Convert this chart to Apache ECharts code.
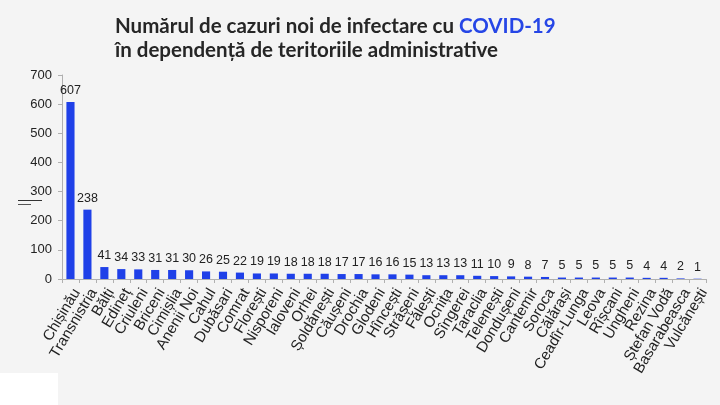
<!DOCTYPE html>
<html>
<head>
<meta charset="utf-8">
<script src="https://cdn.jsdelivr.net/npm/echarts@6/dist/echarts.min.js"></script>
<style>
html,body{margin:0;padding:0;background:#f4f4f4;}
#c{width:720px;height:405px;}
</style>
</head>
<body>
<div id="c"></div>
<script>
const categories = ["Chișinău","Transnistria","Bălți","Edineț","Criuleni","Briceni","Cimișlia","Anenii Noi","Cahul","Dubăsari","Comrat","Florești","Nisporeni","Ialoveni","Orhei","Șoldănești","Căușeni","Drochia","Glodeni","Hîncești","Strășeni","Fălești","Ocnița","Sîngerei","Taraclia","Telenești","Dondușeni","Cantemir","Soroca","Călărași","Ceadîr-Lunga","Leova","Rîșcani","Ungheni","Rezina","Ștefan Vodă","Basarabeasca","Vulcănești"];
const values = [607,238,41,34,33,31,31,30,26,25,22,19,19,18,18,18,17,17,16,16,15,13,13,13,11,10,9,8,7,5,5,5,5,5,4,4,2,1];
const yTicks = [0,100,200,300,400,500,600,700];
const titleLine1 = "Numărul de cazuri noi de infectare cu ";
const titleBlue = "COVID-19";
const titleLine2 = "în dependență de teritoriile administrative";

const chart = echarts.init(document.getElementById('c'));
chart.setOption({
  backgroundColor: '#f4f4f4',
  animation: false,
  title: {
    left: 110, top: 9,
    text: '{a|' + titleLine1 + '}{b|' + titleBlue + '}\n{a|' + titleLine2 + '}',
    textStyle: {
      rich: {
        a: {fontFamily: 'Lato', fontWeight: 'bold', fontSize: 20.5, color: '#262626', lineHeight: 24},
        b: {fontFamily: 'Lato', fontWeight: 'bold', fontSize: 20.5, color: '#2646e6', lineHeight: 24}
      }
    }
  },
  grid: {left: 62, right: 14, top: 75, bottom: 126},
  xAxis: {
    type: 'category',
    data: categories,
    axisLine: {lineStyle: {color: '#b0b0b0'}},
    axisTick: {show: true, alignWithLabel: false, length: 4, lineStyle: {color: '#b0b0b0'}},
    axisLabel: {interval: 0, rotate: 59, verticalAlign: 'top', color: '#222', fontFamily: 'Liberation Sans', fontSize: 15, margin: 7}
  },
  yAxis: {
    type: 'value',
    min: yTicks[0], max: yTicks[yTicks.length-1], interval: 100,
    splitLine: {show: false},
    axisLine: {show: true, lineStyle: {color: '#b0b0b0'}},
    axisTick: {show: true, length: 4, lineStyle: {color: '#b0b0b0'}},
    axisLabel: {color: '#222', fontFamily: 'Liberation Sans', fontSize: 13, margin: 10}
  },
  graphic: [
    {type: 'rect', left: 0, bottom: 0, shape: {width: 58, height: 32}, style: {fill: '#ffffff'}},
    {type: 'line', shape: {x1: 18, y1: 200.5, x2: 42, y2: 200.5}, style: {stroke: '#333', lineWidth: 1}},
    {type: 'line', shape: {x1: 18, y1: 204.5, x2: 31, y2: 204.5}, style: {stroke: '#555', lineWidth: 1}}
  ],
  series: [{
    type: 'bar',
    data: values,
    barWidth: '48%',
    itemStyle: {color: '#1f40e8'},
    label: {show: true, position: 'top', color: '#222', fontFamily: 'Liberation Sans', fontSize: 12.5, distance: 5}
  }]
});
</script>
</body>
</html>
